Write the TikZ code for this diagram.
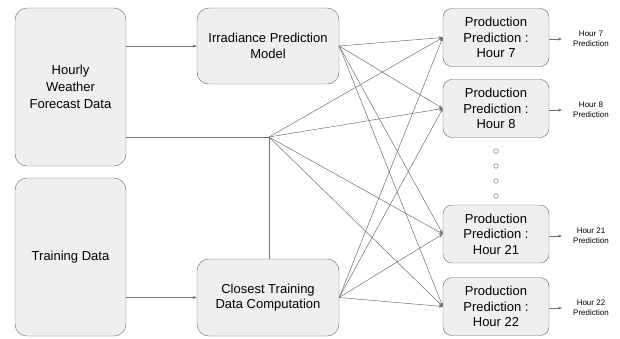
\documentclass[tikz,border=0pt]{standalone}
\usepackage{fontspec}
\setmainfont{Liberation Sans}
\usetikzlibrary{arrows.meta}

\definecolor{boxfill}{HTML}{EFEFEF}
\definecolor{boxline}{HTML}{666666}
\definecolor{wire}{HTML}{707070}

\tikzset{
  box/.style={draw=boxline, fill=boxfill, rounded corners=12pt, align=center,
    inner sep=0pt, font=\fontsize{13}{17}\selectfont},
  midbox/.style={box, minimum width=142pt, font=\fontsize{13}{15.5}\selectfont},
  prodbox/.style={box, rounded corners=9pt, minimum width=106pt,
    minimum height=58pt, font=\fontsize{13}{15.5}\selectfont},
  outlbl/.style={align=center, inner sep=1pt, font=\fontsize{8}{10}\selectfont},
  wire/.style={draw=wire, line width=0.5pt, -{Stealth[length=4pt,width=3pt]}},
  dot/.style={draw=boxline, line width=0.4pt}
}

\begin{document}
\begin{tikzpicture}[x=1pt, y=-1pt]
      \useasboundingbox (0,0) rectangle (620,338);

       % inputs
      \node[box, minimum width=111pt, minimum height=158pt] (wthr) at (70.5,87)
        {Hourly\\Weather\\Forecast Data};
      \node[box, minimum width=111pt, minimum height=158pt] (train) at (70.5,257)
        {Training Data};

       % middle stage
      \node[midbox, minimum height=76pt] (irr) at (268,46)
        {Irradiance Prediction\\Model};
      \node[midbox, minimum height=77pt] (close) at (268,297.5)
        {Closest Training\\Data Computation};

       % production models
      \node[prodbox] (p7) at (496,37.5) {Production\\Prediction :\\Hour 7};
      \node[prodbox] (p8) at (496,108.5) {Production\\Prediction :\\Hour 8};
      \node[prodbox] (p21) at (496,234) {Production\\Prediction :\\Hour 21};
      \node[prodbox] (p22) at (496,306.5) {Production\\Prediction :\\Hour 22};

      \foreach \y in {151,166,181,196}
        \draw[dot] (496,\y) circle (2.3pt);

       % outputs
      \node[outlbl, anchor=west] (o7) at (572,39) {Hour 7\\Prediction};
      \node[outlbl, anchor=west] (o8) at (572,110) {Hour 8\\Prediction};
      \node[outlbl, anchor=west] (o21) at (572,236) {Hour 21\\Prediction};
      \node[outlbl, anchor=west] (o22) at (572,308) {Hour 22\\Prediction};
      \foreach \p/\o in {p7/o7,p8/o8,p21/o21,p22/o22}
        \draw[wire, shorten >=10pt] (\p.east |- \o.west) -- (\o.west);

       % input links
      \draw[wire] (wthr.east |- irr.west) -- (irr.west);
      \draw[wire] (train.east |- close.west) -- (close.west);
      \coordinate (jn) at (269,137);
      \draw[draw=wire, line width=0.5pt] (wthr.east |- jn) -- (jn) -- (jn |- close.north);

       % fan out to every hour
      \foreach \p in {p7,p8,p21,p22} {
        \draw[wire] (irr.east) -- (\p.west);
        \draw[wire] (jn) -- (\p.west);
        \draw[wire] (close.east) -- (\p.west);
      }
    \end{tikzpicture}
\end{document}
